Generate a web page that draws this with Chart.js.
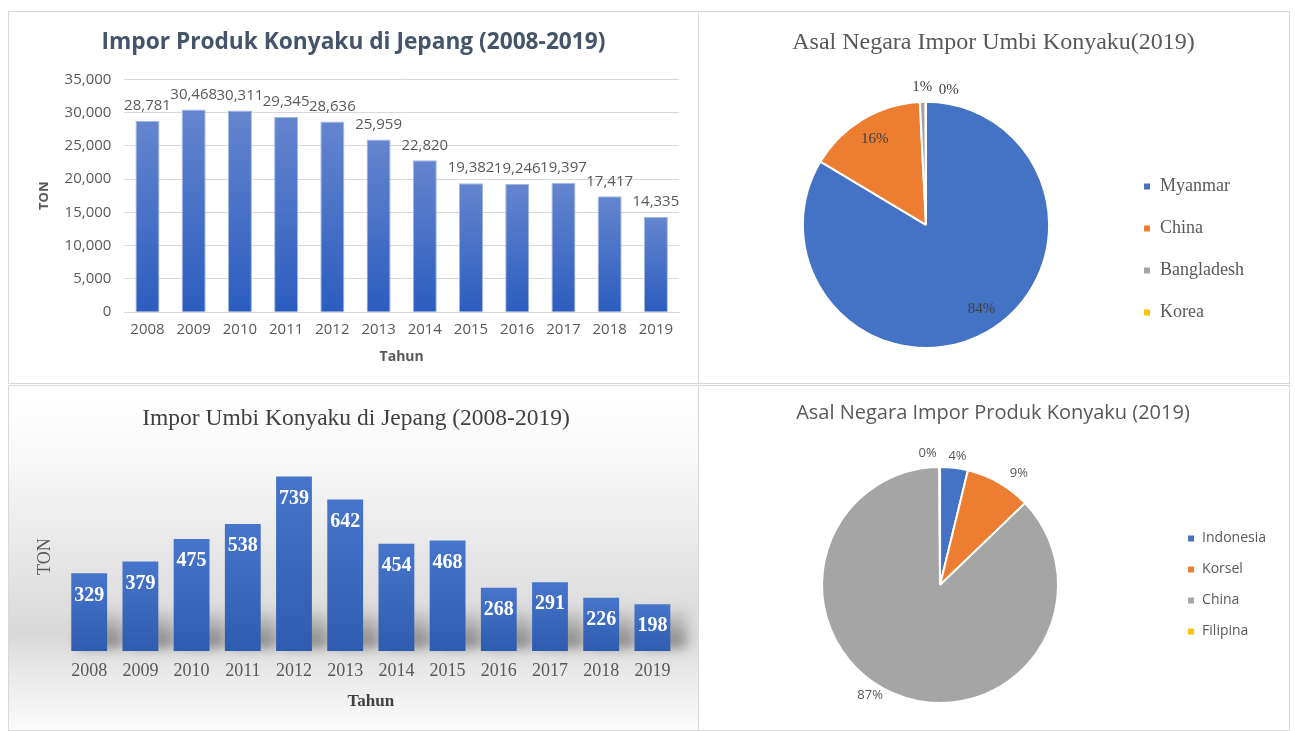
<!DOCTYPE html>
<html>
<head>
<meta charset="utf-8">
<script src="https://cdn.jsdelivr.net/npm/chart.js@4.4.1/dist/chart.umd.min.js"></script>
<style>
  body { margin: 0; background: #fff; width: 1295px; height: 731px; position: relative; overflow: hidden; }
  .panel { position: absolute; box-sizing: border-box; border: 1px solid #d9d9d9; background: #fff; }
  #pA { left: 8px; top: 11px; width: 691px; height: 373px; }
  #pB { left: 698px; top: 11px; width: 592px; height: 373px; }
  #pC { left: 8px; top: 385px; width: 691px; height: 346px;
        background: linear-gradient(to bottom, #ffffff 0%, #f8f8f8 22%, #e3e3e3 55%, #d9d9d9 72%, #ececec 86%, #fbfbfb 100%); }
  #pD { left: 698px; top: 385px; width: 592px; height: 346px; }
</style>
</head>
<body>
<div class="panel" id="pA"><canvas id="cA"></canvas></div>
<div class="panel" id="pB"><canvas id="cB"></canvas></div>
<div class="panel" id="pC"><canvas id="cC"></canvas></div>
<div class="panel" id="pD"><canvas id="cD"></canvas></div>
<script>
const years = ['2008', '2009', '2010', '2011', '2012', '2013', '2014', '2015', '2016', '2017', '2018', '2019'];
// impor produk konyaku (ton)
const produkTon = [28781, 30468, 30311, 29345, 28636, 25959, 22820, 19382, 19246, 19397, 17417, 14335];
// impor umbi konyaku (ton)
const umbiTon = [329, 379, 475, 538, 739, 642, 454, 468, 268, 291, 226, 198];
// asal negara 2019 (share, %)
const umbiNegara = ['Myanmar', 'China', 'Bangladesh', 'Korea'];
const umbiShare = [83.6, 15.6, 0.75, 0.05];
const produkNegara = ['Indonesia', 'Korsel', 'China', 'Filipina'];
const produkShare = [3.8, 9.0, 87.1, 0.1];
const pieColors = ['#4472c4', '#ed7d31', '#a5a5a5', '#ffc000'];

Chart.defaults.animation = false;
Chart.defaults.events = [];
Chart.defaults.maintainAspectRatio = false;

// gradient per bar, light at the top of the bar
function barFill(top, bottom) {
    return c => {
        const chart = c.chart;
        if (c.type !== 'data' || !chart.chartArea) return bottom;
        const y = chart.scales.y;
        const g = chart.ctx.createLinearGradient(0, y.getPixelForValue(c.raw), 0, y.getPixelForValue(0));
        g.addColorStop(0, top);
        g.addColorStop(1, bottom);
        return g;
    };
}

const valueLabels = {
    id: 'valueLabels',
    afterDatasetsDraw(chart, args, opts) {
        const ctx = chart.ctx;
        const data = chart.data.datasets[0].data;
        ctx.save();
        ctx.font = `${opts.weight || 'normal'} ${opts.size}px ${opts.family}`;
        ctx.fillStyle = opts.color;
        ctx.textAlign = 'center';
        ctx.textBaseline = 'middle';
        chart.getDatasetMeta(0).data.forEach((bar, i) => {
            ctx.fillText(data[i].toLocaleString('en-US'), bar.x, bar.y + opts.offset);
        });
        ctx.restore();
    }
};

// soft floor shadow behind the bars
const floorShadow = {
    id: 'floorShadow',
    beforeDatasetsDraw(chart) {
        const ctx = chart.ctx;
        ctx.save();
        ctx.filter = 'blur(6px)';
        chart.getDatasetMeta(0).data.forEach(bar => {
            const w = bar.width;
            const g = ctx.createLinearGradient(0, bar.base - 45, 0, bar.base);
            g.addColorStop(0, 'rgba(0,0,0,0)');
            g.addColorStop(1, 'rgba(0,0,0,0.45)');
            ctx.fillStyle = g;
            ctx.fillRect(bar.x - w / 2 + 6, bar.base - 45, w + 10, 42);
        });
        ctx.restore();
    }
};

const pieLabels = {
    id: 'pieLabels',
    afterDraw(chart, args, opts) {
        const ctx = chart.ctx;
        const data = chart.data.datasets[0].data;
        const total = data.reduce((a, b) => a + b, 0);
        ctx.save();
        ctx.font = `${opts.size}px ${opts.family}`;
        ctx.fillStyle = opts.color;
        ctx.textAlign = 'center';
        ctx.textBaseline = 'middle';
        chart.getDatasetMeta(0).data.forEach((arc, i) => {
            const mid = (arc.startAngle + arc.endAngle) / 2;
            const r = arc.outerRadius * opts.radius[i];
            const x = arc.x + Math.cos(mid) * r + (opts.dx ? opts.dx[i] : 0);
            const y = arc.y + Math.sin(mid) * r + (opts.dy ? opts.dy[i] : 0);
            ctx.fillText(Math.round(data[i] / total * 100) + '%', x, y);
        });
        ctx.restore();
    }
};

// --- Impor Produk Konyaku
new Chart(document.getElementById('cA'), {
    type: 'bar',
    data: {
        labels: years,
        datasets: [{
            data: produkTon,
            backgroundColor: barFill('#6585ce', '#2c5dbf'),
            borderColor: 'rgba(150,175,225,0.9)',
            borderWidth: 1,
            categoryPercentage: 1,
            barPercentage: 0.52
        }]
    },
    options: {
        layout: {padding: {left: 19, right: 19, top: 0, bottom: 18}},
        plugins: {
            legend: {display: false},
            tooltip: {enabled: false},
            title: {
                display: true,
                text: 'Impor Produk Konyaku di Jepang (2008-2019)',
                color: '#44546a',
                font: {family: 'Open Sans', size: 22.7, weight: 'bold'},
                padding: {top: 17, bottom: 23}
            },
            valueLabels: {family: 'Open Sans', size: 15, color: '#595959', offset: -15}
        },
        scales: {
            x: {
                grid: {display: false, drawTicks: false},
                border: {color: '#d9d9d9'},
                ticks: {color: '#595959', font: {family: 'Open Sans', size: 15}, padding: 9},
                title: {display: true, text: 'Tahun', color: '#595959',
                        font: {family: 'Open Sans', size: 14, weight: 'bold'}, padding: {top: 0, bottom: 0}}
            },
            y: {
                min: 0,
                max: 35000,
                border: {display: false},
                grid: {color: '#d9d9d9', drawTicks: false},
                ticks: {stepSize: 5000, color: '#595959', font: {family: 'Open Sans', size: 15}, padding: 13,
                        callback: v => v.toLocaleString('en-US')},
                title: {display: true, text: 'TON', color: '#595959',
                        font: {family: 'Open Sans', size: 13, weight: 'bold'}, padding: {top: 8, bottom: 0}}
            }
        }
    },
    plugins: [valueLabels]
});

// --- Asal Negara Impor Umbi Konyaku
new Chart(document.getElementById('cB'), {
    type: 'pie',
    data: {
        labels: umbiNegara,
        datasets: [{data: umbiShare, backgroundColor: pieColors, borderColor: '#fff', borderWidth: 2}]
    },
    options: {
        layout: {padding: {left: 34, right: 35, top: 0, bottom: 34}},
        plugins: {
            tooltip: {enabled: false},
            title: {
                display: true,
                text: 'Asal Negara Impor Umbi Konyaku(2019)',
                color: '#595959',
                font: {family: 'Liberation Serif', size: 24, weight: 'normal'},
                padding: {top: 16, bottom: 44}
            },
            legend: {
                position: 'right',
                fullSize: false,
                title: {display: true, text: ' ', font: {size: 10}, padding: {top: 37, bottom: 0}},
                labels: {boxWidth: 8, boxHeight: 8, padding: 24, color: '#595959',
                         font: {family: 'Liberation Serif', size: 18}}
            },
            pieLabels: {family: 'Liberation Serif', size: 15, color: '#404040',
                        radius: [0.8, 0.81, 1.12, 1.1], dx: [7, 0, 0, 23], dy: [-2, 0, 0, 1]}
        }
    },
    plugins: [pieLabels]
});

// --- Impor Umbi Konyaku
new Chart(document.getElementById('cC'), {
    type: 'bar',
    data: {
        labels: years,
        datasets: [{
            data: umbiTon,
            backgroundColor: barFill('#4675cb', '#2f5cb0'),
            categoryPercentage: 1,
            barPercentage: 0.7
        }]
    },
    options: {
        layout: {padding: {left: 25, right: 20, top: 0, bottom: 18}},
        plugins: {
            legend: {display: false},
            tooltip: {enabled: false},
            title: {
                display: true,
                text: 'Impor Umbi Konyaku di Jepang (2008-2019)',
                color: '#404040',
                font: {family: 'Liberation Serif', size: 23.5, weight: 'normal'},
                padding: {top: 19, bottom: 29}
            },
            valueLabels: {family: 'Liberation Serif', size: 20, weight: 'bold', color: '#ffffff', offset: 22}
        },
        scales: {
            x: {
                grid: {display: false, drawTicks: false},
                border: {display: false},
                ticks: {color: '#595959', font: {family: 'Liberation Serif', size: 18}, padding: 9},
                title: {display: true, text: 'Tahun', color: '#404040',
                        font: {family: 'Liberation Serif', size: 17, weight: 'bold'}, padding: {top: 1, bottom: 0}}
            },
            y: {
                min: 0,
                max: 800,
                border: {display: false},
                grid: {display: false, drawTicks: false},
                ticks: {display: false},
                title: {display: true, text: 'TON', color: '#595959',
                        font: {family: 'Liberation Serif', size: 18}, padding: {top: 0, bottom: 8}}
            }
        }
    },
    plugins: [floorShadow, valueLabels]
});

// --- Asal Negara Impor Produk Konyaku
new Chart(document.getElementById('cD'), {
    type: 'pie',
    data: {
        labels: produkNegara,
        datasets: [{data: produkShare, backgroundColor: pieColors, borderColor: '#fff', borderWidth: 2}]
    },
    options: {
        layout: {padding: {left: 11, right: 13, top: 0, bottom: 26}},
        plugins: {
            tooltip: {enabled: false},
            title: {
                display: true,
                text: 'Asal Negara Impor Produk Konyaku (2019)',
                color: '#595959',
                font: {family: 'Open Sans', size: 20, weight: 'normal'},
                padding: {top: 15, bottom: 41}
            },
            legend: {
                position: 'right',
                fullSize: false,
                labels: {boxWidth: 8, boxHeight: 8, padding: 17, color: '#595959',
                         font: {family: 'Open Sans', size: 14}}
            },
            pieLabels: {family: 'Open Sans', size: 13, color: '#595959',
                        radius: [1.1, 1.12, 1.11, 1.12], dx: [2, 13, -19, -12], dy: [0, 3, -10, 0]}
        }
    },
    plugins: [pieLabels]
});
</script>
</body>
</html>
